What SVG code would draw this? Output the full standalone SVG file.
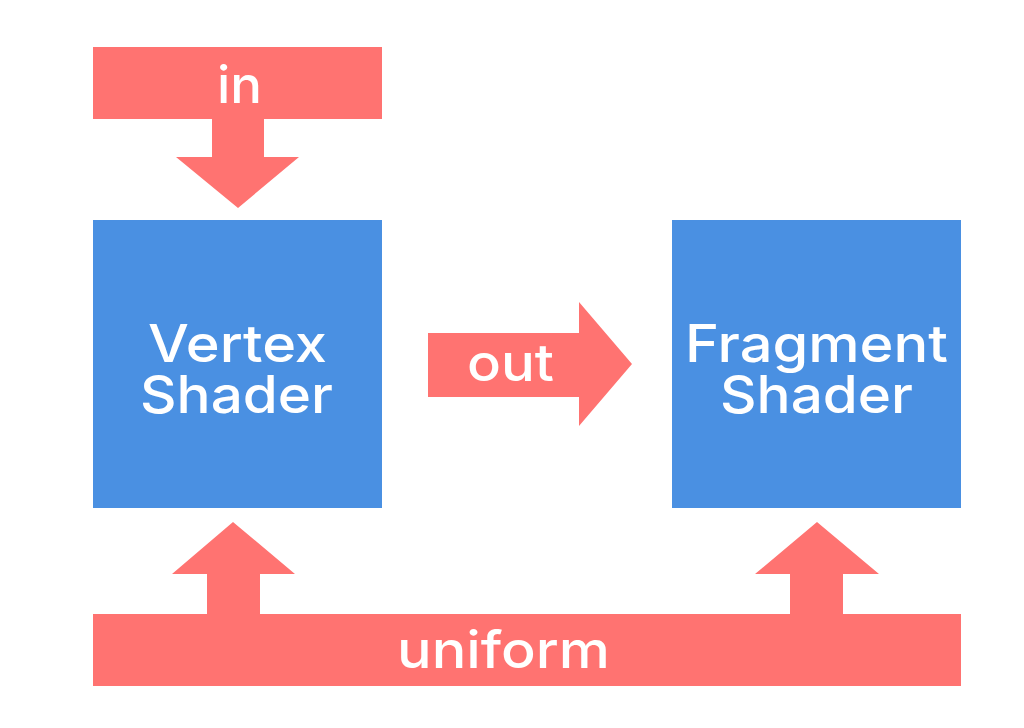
<svg xmlns="http://www.w3.org/2000/svg" width="1024" height="728" viewBox="0 0 1024 728">
<style>
.box{fill:#4A90E2}
.arr{fill:#FF7371}
.t{font-family:Inter,"Noto Sans","DejaVu Sans",sans-serif;font-weight:500;fill:#fff;text-anchor:middle;font-size:52px}
</style>
<rect width="1024" height="728" fill="#fff"/>
<g id="connectors">
<g id="in">
<polygon class="arr" points="93,47 382,47 382,119 264,119 264,157 299,157 238,208 176,157 212,157 212,119 93,119"/>
<text class="t" x="239.5" y="103" textLength="45" lengthAdjust="spacingAndGlyphs">in</text>
</g>
<g id="out">
<polygon class="arr" points="428,333 579,333 579,302 632,364 579,426 579,397 428,397"/>
<text class="t" x="510.5" y="381" textLength="87" lengthAdjust="spacingAndGlyphs">out</text>
</g>
<g id="uniform">
<polygon class="arr" points="93,614 207,614 207,574 172,574 233,522 295,574 260,574 260,614 790,614 790,574 755,574 817,522 879,574 843,574 843,614 961,614 961,686 93,686"/>
<text class="t" x="503.5" y="668" textLength="213" lengthAdjust="spacingAndGlyphs">uniform</text>
</g>
</g>
<g id="vertex">
<rect class="box" x="93" y="220" width="289" height="288"/>
<text class="t" x="237.5" y="362" textLength="179" lengthAdjust="spacingAndGlyphs">Vertex</text>
<text class="t" x="236.5" y="413" textLength="193" lengthAdjust="spacingAndGlyphs">Shader</text>
</g>
<g id="fragment">
<rect class="box" x="672" y="220" width="289" height="288"/>
<text class="t" x="816.5" y="362" textLength="263" lengthAdjust="spacingAndGlyphs">Fragment</text>
<text class="t" x="816.5" y="413" textLength="193" lengthAdjust="spacingAndGlyphs">Shader</text>
</g>
</svg>
